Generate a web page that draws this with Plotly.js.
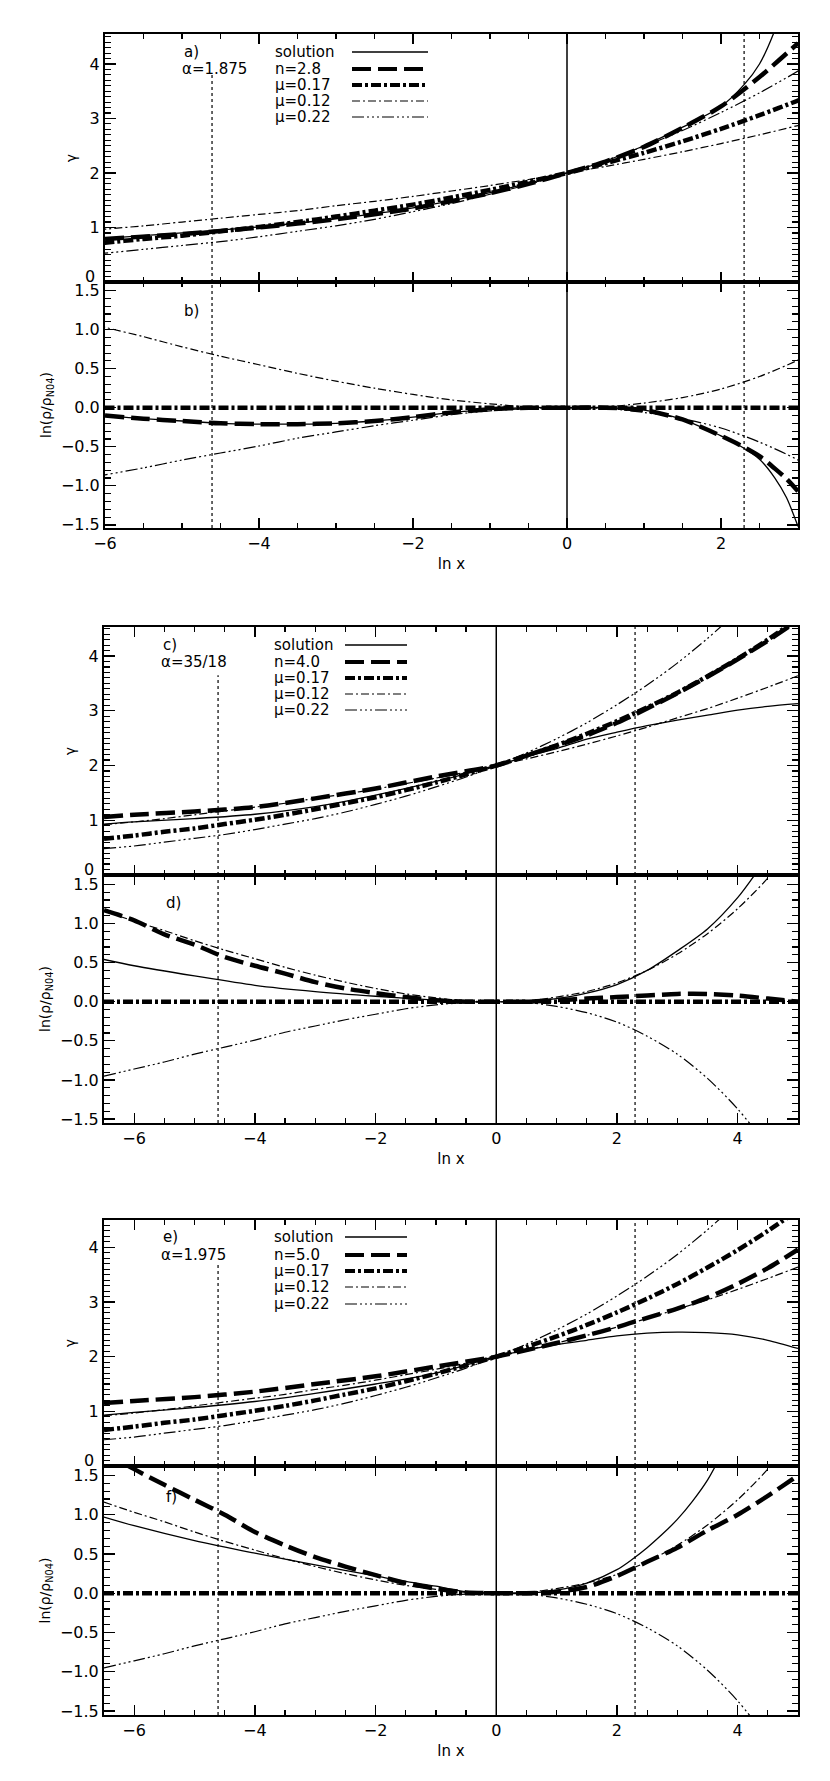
<!DOCTYPE html>
<html><head><meta charset="utf-8">
<script src="https://cdn.plot.ly/plotly-3.0.1.min.js"></script>
<style>body{margin:0;background:#fff}#plot{width:830px;height:1781px}</style>
</head><body><div id="plot"></div>
<script>
// ---------- data ----------
const xGrid = [-6.5,-6,-5.5,-5,-4.5,-4,-3.5,-3,-2.5,-2,-1.5,-1,-0.5,0,0.5,1,1.5,2,2.5,3,3.5,4,4.5,5];
const gammaMu017 = [0.66,0.72,0.79,0.85,0.93,1.01,1.10,1.20,1.31,1.42,1.55,1.69,1.84,2.00,2.18,2.37,2.58,2.81,3.06,3.33,3.63,3.95,4.30,4.68];
const gammaMu012 = [0.92,0.97,1.03,1.10,1.17,1.24,1.31,1.40,1.48,1.57,1.67,1.77,1.88,2.00,2.12,2.25,2.39,2.54,2.70,2.87,3.04,3.23,3.43,3.64];
const gammaMu022 = [0.48,0.53,0.60,0.67,0.74,0.83,0.93,1.03,1.15,1.29,1.44,1.61,1.79,2.00,2.23,2.49,2.78,3.11,3.47,3.87,4.32,4.82,5.38,6.01];
const lnRatioMu012 = [1.16,1.03,0.91,0.78,0.66,0.55,0.44,0.34,0.25,0.17,0.10,0.05,0.01,0,0.01,0.06,0.13,0.24,0.40,0.61,0.87,1.19,1.58,2.06];
const lnRatioMu022 = [-0.95,-0.86,-0.77,-0.67,-0.58,-0.49,-0.39,-0.31,-0.23,-0.16,-0.09,-0.04,-0.01,0,-0.01,-0.06,-0.14,-0.26,-0.44,-0.67,-0.98,-1.37,-1.86,-2.46];
const lnRatioMu017X = [-6.5,5];
const lnRatioMu017 = [0,0];

// panel a / b (alpha = 1.875, n = 2.8)
const solAx = [-6,-5,-4,-3,-2,-1,0,0.5,1,1.5,2,2.3,2.5,2.68,2.8];
const solAy = [0.80,0.90,1.01,1.16,1.36,1.64,2.00,2.22,2.50,2.84,3.22,3.62,4.00,4.55,5.05];
const nAx = [-6,-5,-4,-3,-2,-1,-0.5,0,0.5,1,1.5,2,2.5,3];
const nAy = [0.79,0.88,1.00,1.15,1.35,1.63,1.80,2.00,2.21,2.48,2.83,3.22,3.76,4.38];
const bX = [-6,-5.5,-5,-4.5,-4,-3.5,-3,-2.5,-2,-1.5,-1,-0.5,0,0.5,1,1.5,1.75,2,2.25,2.5,2.7,2.85,3];
const solBy = [-0.10,-0.14,-0.17,-0.20,-0.21,-0.21,-0.20,-0.17,-0.12,-0.06,-0.02,0,0,0,-0.03,-0.15,-0.25,-0.36,-0.49,-0.66,-0.90,-1.15,-1.52];
const nBy = [-0.10,-0.14,-0.17,-0.20,-0.21,-0.21,-0.20,-0.17,-0.12,-0.06,-0.02,0,0,0,-0.03,-0.15,-0.25,-0.36,-0.48,-0.62,-0.78,-0.91,-1.07];

// panel c / d (alpha = 35/18, n = 4.0) and e / f (alpha = 1.975, n = 5.0)
const gX = [-6.5,-6,-5,-4,-3,-2,-1,0,0.5,1,1.5,2,2.5,3,3.5,4,4.5,5];
const solCy = [0.93,0.97,1.03,1.11,1.25,1.46,1.71,2.00,2.16,2.31,2.48,2.61,2.73,2.83,2.92,3.01,3.08,3.13];
const nCy = [1.06,1.10,1.16,1.24,1.40,1.58,1.80,2.00,2.18,2.36,2.55,2.78,3.04,3.32,3.62,3.94,4.28,4.65];
const nDy = [1.17,1.04,0.86,0.73,0.57,0.46,0.36,0.25,0.17,0.11,0.06,0.02,0,0,0,0.02,0.04,0.06,0.08,0.10,0.10,0.08,0.04,0.00];
const solDx = [-6.5,-6,-5,-4,-3,-2,-1,-0.5,0,0.5,1,1.5,2,2.5,3,3.5,4,4.3];
const solDy = [0.54,0.46,0.33,0.21,0.13,0.07,0.02,0,0,0,0.04,0.11,0.22,0.40,0.65,0.93,1.33,1.64];
const nEy = [1.15,1.19,1.26,1.36,1.50,1.64,1.82,2.00,2.12,2.25,2.39,2.54,2.71,2.88,3.08,3.33,3.62,3.96];
const solEy = [0.93,0.98,1.07,1.18,1.33,1.50,1.70,2.00,2.12,2.22,2.30,2.38,2.43,2.45,2.44,2.40,2.30,2.15];
const nFy = [1.80,1.58,1.38,1.19,1.00,0.78,0.61,0.46,0.34,0.23,0.13,0.06,0.01,0,0,0.02,0.08,0.22,0.40,0.58,0.80,1.00,1.24,1.50];
const solFx = [-6.5,-6,-5,-4,-3,-2,-1.5,-1,-0.5,0,0.5,1,1.5,2,2.25,2.5,2.75,3,3.25,3.5,3.7];
const solFy = [0.97,0.86,0.67,0.51,0.36,0.22,0.15,0.09,0.02,0,0,0.04,0.13,0.30,0.43,0.58,0.75,0.94,1.17,1.44,1.72];

// reference lines (ln x = ln 0.01, 0, ln 10)
const refLnX = [-4.61, 0, 2.30];
const leftDottedTop = [3.85, 3.65, 3.7];

// text
const panelTags = ['a)','b)','c)','d)','e)','f)'];
const alphaLabels = ['α=1.875','α=35/18','α=1.975'];
const nLabels = ['n=2.8','n=4.0','n=5.0'];
const muLabels = ['μ=0.17','μ=0.12','μ=0.22'];
const gammaTicks = [1,2,3,4];
const gammaZeroLabel = '0';
const xTitle = 'ln x';
const gammaTitle = 'γ';
const ratioTitle = 'ln(ρ/ρ<sub>N04</sub>)';

// ---------- styles / geometry ----------
const W = 830, H = 1781;
const ST = {
  sol: {color:'#000', width:1.3, dash:'solid'},
  n:   {color:'#000', width:4.5, dash:'19px,7px'},
  m17: {color:'#000', width:4.5, dash:'10px,3px,3px,3px'},
  m12: {color:'#000', width:1.2, dash:'8px,3px,2px,3px'},
  m22: {color:'#000', width:1.2, dash:'12px,3px,2px,3px,2px,3px,2px,3px'}
};
const panels = [
  {xd:[105,798], yd:[34,282],   xr:[-6,3],    yr:[0,4.55],     top:true},
  {xd:[105,798], yd:[282,528],  xr:[-6,3],    yr:[-1.54,1.61], top:false},
  {xd:[104,798], yd:[627,875],  xr:[-6.5,5],  yr:[0,4.53],     top:true},
  {xd:[104,798], yd:[875,1123], xr:[-6.5,5],  yr:[-1.55,1.62], top:false},
  {xd:[104,798], yd:[1220,1466],xr:[-6.5,5],  yr:[0,4.5],      top:true},
  {xd:[104,798], yd:[1466,1715],xr:[-6.5,5],  yr:[-1.55,1.62], top:false}
];
const FONT = 'DejaVu Sans, sans-serif';

const traces = [];
const layout = {
  width: W, height: H, margin:{l:0,r:0,t:0,b:0},
  paper_bgcolor:'#fff', plot_bgcolor:'#fff', showlegend:false,
  font:{family:FONT, size:16, color:'#000'},
  annotations: [], shapes: []
};

function line(xs, ys, st, i){
  const s = i===0 ? '' : String(i+1);
  traces.push({x:xs, y:ys, xaxis:'x'+s, yaxis:'y'+s, type:'scatter', mode:'lines',
    line:{color:st.color, width:st.width, dash:st.dash, shape:'spline', smoothing:0.8},
    hoverinfo:'skip', cliponaxis:true});
}
function vline(xv, y0, y1, dash, width, i){
  const s = i===0 ? '' : String(i+1);
  traces.push({x:[xv,xv], y:[y0,y1], xaxis:'x'+s, yaxis:'y'+s, type:'scatter', mode:'lines',
    line:{color:'#000', width:width, dash:dash}, hoverinfo:'skip'});
}

panels.forEach((p,i)=>{
  const s = i===0 ? '' : String(i+1);
  const xd = [p.xd[0]/W, p.xd[1]/W];
  const yd = [1 - p.yd[1]/H, 1 - p.yd[0]/H];
  const xa = {
    domain: xd, range: p.xr, anchor:'y'+s,
    showgrid:false, zeroline:false, showline:true, linecolor:'#000', linewidth:2,
    mirror:'allticks', ticks:'inside', ticklen:10, tickwidth:1.3, tickcolor:'#000',
    dtick:2, tick0:0, showticklabels: !p.top,
    tickfont:{family:FONT, size:16, color:'#000'},
    minor:{dtick:0.5, ticks:'inside', ticklen:5, tickwidth:1.2, tickcolor:'#000', showgrid:false}
  };
  if(!p.top) xa.title = {text:xTitle, font:{family:FONT, size:15}, standoff:6};
  layout['xaxis'+s] = xa;
  const ya = {
    domain: yd, range: p.yr, anchor:'x'+s,
    showgrid:false, zeroline:false, showline:true, linecolor:'#000', linewidth:2,
    mirror:'allticks', ticks:'inside', ticklen:11, tickwidth:1.3, tickcolor:'#000',
    tickfont:{family:FONT, size:16, color:'#000'},
    minor:{dtick:0.1, ticks:'inside', ticklen:6, tickwidth:1.1, tickcolor:'#000', showgrid:false},
    title: p.top ? {text:gammaTitle, font:{family:FONT, size:14}, standoff:10}
                 : {text:ratioTitle, font:{family:FONT, size:14}, standoff:6}
  };
  if(p.top){
    ya.tickmode = 'array'; ya.tickvals = gammaTicks; ya.tickformat = 'd';
    ya.minor.tickmode = 'linear'; ya.minor.tick0 = 0;
    // the "0" label sits just above the panel corner, as in the reference
    layout.annotations.push({text:gammaZeroLabel, x:(p.xd[0]-8)/W, y:1-(p.yd[1]-6)/H,
      xref:'paper', yref:'paper', xanchor:'right', yanchor:'middle', showarrow:false,
      font:{family:FONT, size:16, color:'#000'}});
    // major tick mark at 0 is the panel corner; keep minor ticks
  } else {
    ya.dtick = 0.5; ya.tick0 = 0; ya.tickformat = '.1f';
  }
  layout['yaxis'+s] = ya;
});

// reference vertical lines
panels.forEach((p,i)=>{
  const k = Math.floor(i/2);
  vline(refLnX[0], p.yr[0], p.top ? leftDottedTop[k] : p.yr[1], '3px,3px', 1.2, i);
  vline(refLnX[1], p.yr[0], p.yr[1], 'solid', 1.5, i);
  vline(refLnX[2], p.yr[0], p.yr[1], '3px,3px', 1.2, i);
});

// panel a
line(xGrid, gammaMu012, ST.m12, 0);
line(xGrid, gammaMu022, ST.m22, 0);
line(solAx, solAy, ST.sol, 0);
line(xGrid, gammaMu017, ST.m17, 0);
line(nAx, nAy, ST.n, 0);
// panel b
line(xGrid, lnRatioMu012, ST.m12, 1);
line(xGrid, lnRatioMu022, ST.m22, 1);
line(bX, solBy, ST.sol, 1);
line(lnRatioMu017X, lnRatioMu017, ST.m17, 1);
line(bX, nBy, ST.n, 1);
// panel c
line(xGrid, gammaMu012, ST.m12, 2);
line(xGrid, gammaMu022, ST.m22, 2);
line(gX, solCy, ST.sol, 2);
line(xGrid, gammaMu017, ST.m17, 2);
line(gX, nCy, ST.n, 2);
// panel d
line(xGrid, lnRatioMu012, ST.m12, 3);
line(xGrid, lnRatioMu022, ST.m22, 3);
line(solDx, solDy, ST.sol, 3);
line(lnRatioMu017X, lnRatioMu017, ST.m17, 3);
line(xGrid, nDy, ST.n, 3);
// panel e
line(xGrid, gammaMu012, ST.m12, 4);
line(xGrid, gammaMu022, ST.m22, 4);
line(gX, solEy, ST.sol, 4);
line(xGrid, gammaMu017, ST.m17, 4);
line(gX, nEy, ST.n, 4);
// panel f
line(xGrid, lnRatioMu012, ST.m12, 5);
line(xGrid, lnRatioMu022, ST.m22, 5);
line(solFx, solFy, ST.sol, 5);
line(lnRatioMu017X, lnRatioMu017, ST.m17, 5);
line(xGrid, nFy, ST.n, 5);

// ---------- in-panel legends and tags ----------
function txt(text, px, py, size){
  layout.annotations.push({text:text, x:px/W, y:1-py/H, xref:'paper', yref:'paper',
    xanchor:'left', yanchor:'middle', showarrow:false,
    font:{family:FONT, size:size||15, color:'#000'}});
}
const legendGeom = [
  {tagX:182, labX:273, s0:352, s1:428, rows:[52,69,85,101,117]},
  {tagX:161, labX:272, s0:345, s1:407, rows:[645,662,678,694,710]},
  {tagX:161, labX:272, s0:345, s1:407, rows:[1237,1255,1271,1287,1304]}
];
const bottomTags = [{x:182,y:311},{x:164,y:903},{x:164,y:1497}];
const styleOrder = [ST.sol, ST.n, ST.m17, ST.m12, ST.m22];
legendGeom.forEach((g,k)=>{
  txt(panelTags[2*k], g.tagX, g.rows[0]);
  txt(alphaLabels[k], g.tagX-2, g.rows[1]);
  const labs = ['solution', nLabels[k]].concat(muLabels);
  labs.forEach((lab,j)=>{
    txt(lab, g.labX, g.rows[j]);
    const st = styleOrder[j];
    layout.shapes.push({type:'line', xref:'paper', yref:'paper',
      x0:g.s0/W, x1:g.s1/W, y0:1-g.rows[j]/H, y1:1-g.rows[j]/H,
      line:{color:'#000', width: st.width>2 ? 4 : st.width, dash:st.dash}});
  });
  txt(panelTags[2*k+1], bottomTags[k].x, bottomTags[k].y);
});

Plotly.newPlot('plot', traces, layout, {staticPlot:true, displayModeBar:false});
</script></body></html>
